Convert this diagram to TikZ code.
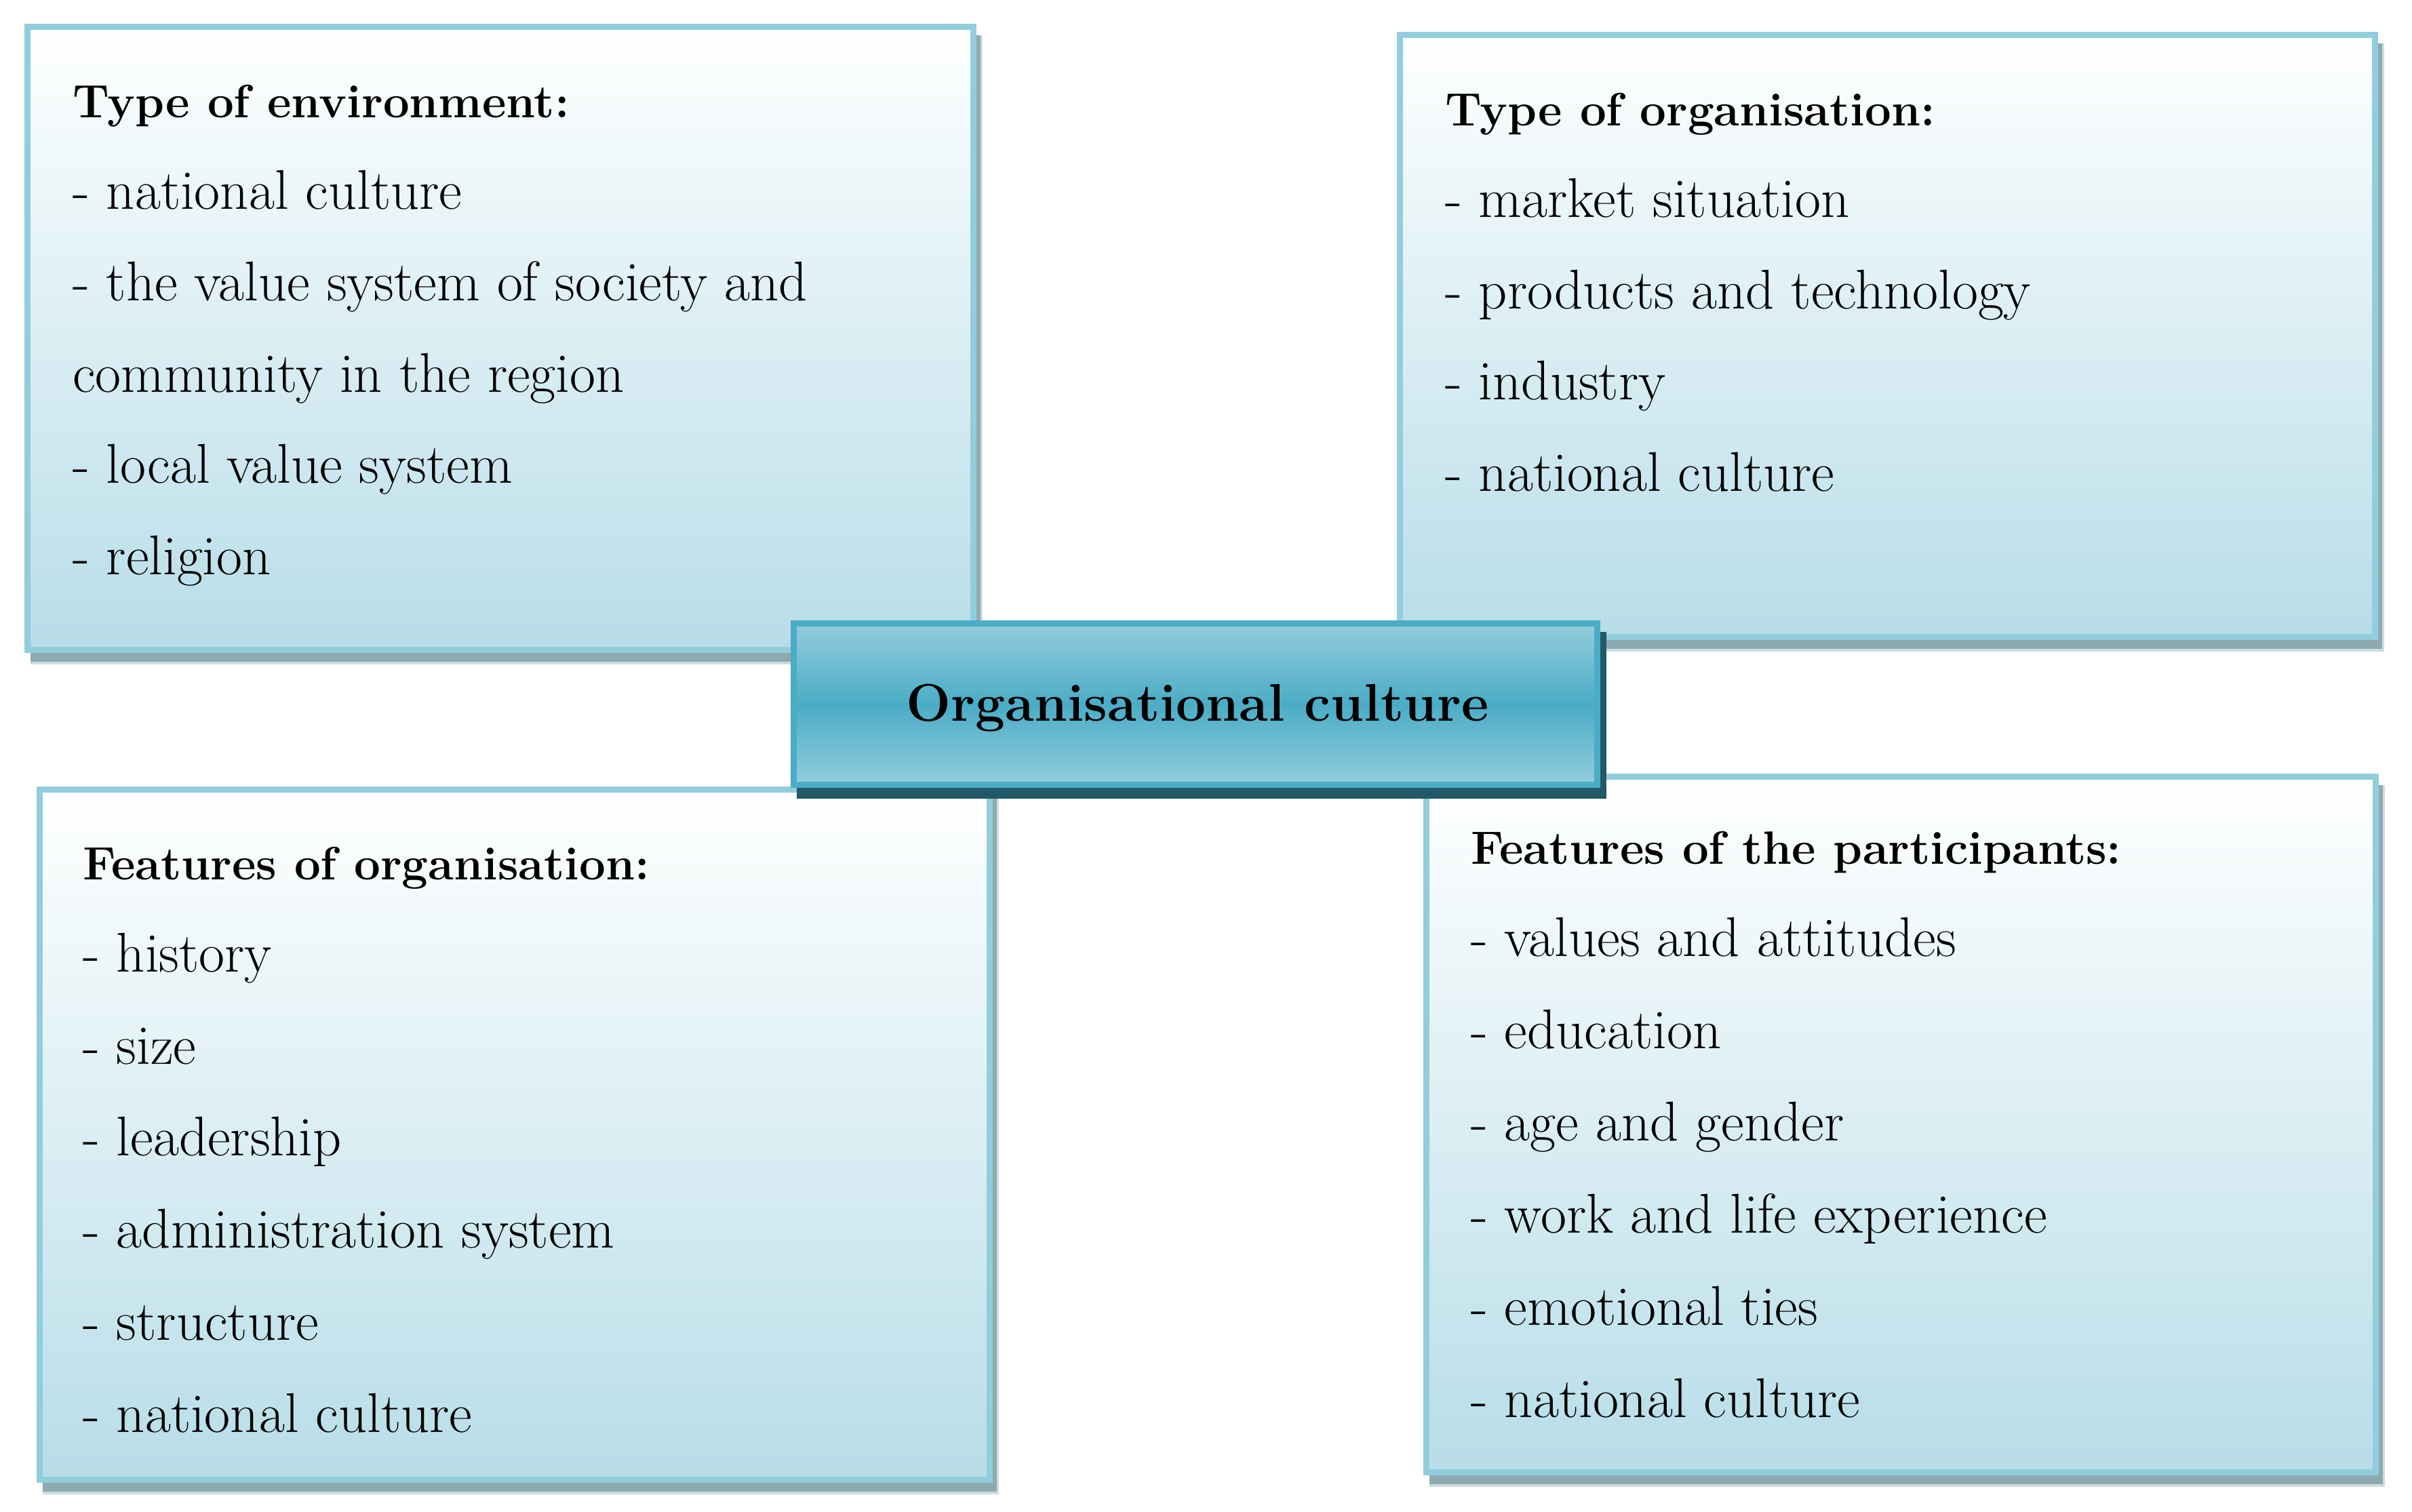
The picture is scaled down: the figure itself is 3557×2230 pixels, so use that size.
\documentclass[tikz,border=0pt]{standalone}
\usepackage{tikz}
\definecolor{bordercol}{RGB}{146,205,220}
\definecolor{fillbot}{RGB}{183,221,232}
\definecolor{shdark}{RGB}{142,170,177}
\definecolor{shfaint}{RGB}{205,220,224}
\definecolor{midblue}{RGB}{75,172,198}
\definecolor{lightblue}{RGB}{147,205,221}
\definecolor{darkteal}{RGB}{33,89,104}
\tikzset{
  outerbox/.style={draw=bordercol, line width=2.56pt, inner sep=0pt, outer sep=0pt,
                   top color=white, bottom color=fillbot, rectangle},
  centrebox/.style={draw=midblue, line width=2.56pt, inner sep=0pt, outer sep=0pt,
                   top color=lightblue, bottom color=lightblue, middle color=midblue, rectangle},
  txt/.style={anchor=base west, inner sep=0pt, outer sep=0pt, font=\fontsize{23.5}{27}\selectfont},
  ttl/.style={txt, font=\fontsize{19.6}{23}\selectfont\bfseries},
  shd/.style={fill=shdark},
  shf/.style={fill=shfaint},
}
\begin{document}
\begin{tikzpicture}[x=0.01cm, y=-0.01cm]
\path[use as bounding box] (0,0) rectangle (3557,2230);
% shadows
\fill[shf] (45,52) rectangle (1449,980);
\fill[shd] (45,52) rectangle (1446,976);
\fill[shf] (2069,64) rectangle (3516,961);
\fill[shd] (2069,64) rectangle (3513,957);
\fill[shf] (63,1177) rectangle (1473,2204);
\fill[shd] (63,1177) rectangle (1470,2200);
\fill[shf] (2108,1158) rectangle (3517,2193);
\fill[shd] (2108,1158) rectangle (3514,2189);
% boxes
\node[outerbox, minimum width=13.95cm, minimum height=9.19cm] (boxA) at (738,499) {};
\node[outerbox, minimum width=14.38cm, minimum height=8.88cm] (boxB) at (2783.5,495.5) {};
\node[outerbox, minimum width=14.01cm, minimum height=10.18cm] (boxC) at (759,1673.5) {};
\node[outerbox, minimum width=14.00cm, minimum height=10.26cm] (boxD) at (2803.5,1658.5) {};
% box A text
\node[ttl] (a0) at (107,173) {Type of environment:};
\node[txt] (a1) at (107,308) {- national culture};
\node[txt] (a2) at (107,443) {- the value system of society and};
\node[txt] (a3) at (107,578) {community in the region};
\node[txt] (a4) at (107,712) {- local value system};
\node[txt] (a5) at (107,847) {- religion};
% box B text
\node[ttl] (b0) at (2131,185) {Type of organisation:};
\node[txt] (b1) at (2131,320) {- market situation};
\node[txt] (b2) at (2131,455) {- products and technology};
\node[txt] (b3) at (2131,589) {- industry};
\node[txt] (b4) at (2131,724) {- national culture};
% box C text
\node[ttl] (c0) at (122,1297) {Features of organisation:};
\node[txt] (c1) at (122,1433) {- history};
\node[txt] (c2) at (122,1569) {- size};
\node[txt] (c3) at (122,1704) {- leadership};
\node[txt] (c4) at (122,1840) {- administration system};
\node[txt] (c5) at (122,1976) {- structure};
\node[txt] (c6) at (122,2112) {- national culture};
% box D text
\node[ttl] (d0) at (2169,1274) {Features of the participants:};
\node[txt] (d1) at (2169,1410) {- values and attitudes};
\node[txt] (d2) at (2169,1546) {- education};
\node[txt] (d3) at (2169,1682) {- age and gender};
\node[txt] (d4) at (2169,1818) {- work and life experience};
\node[txt] (d5) at (2169,1954) {- emotional ties};
\node[txt] (d6) at (2169,2090) {- national culture};
% centre
\fill[darkteal] (1175,932) rectangle (2369,1178);
\node[centrebox, minimum width=11.85cm, minimum height=2.38cm] (centre) at (1763,1038.5) {};
\node[anchor=base, inner sep=0pt, font=\fontsize{22.2}{26}\selectfont\bfseries] (ctext) at (1766,1063) {Organisational culture};
\end{tikzpicture}
\end{document}
